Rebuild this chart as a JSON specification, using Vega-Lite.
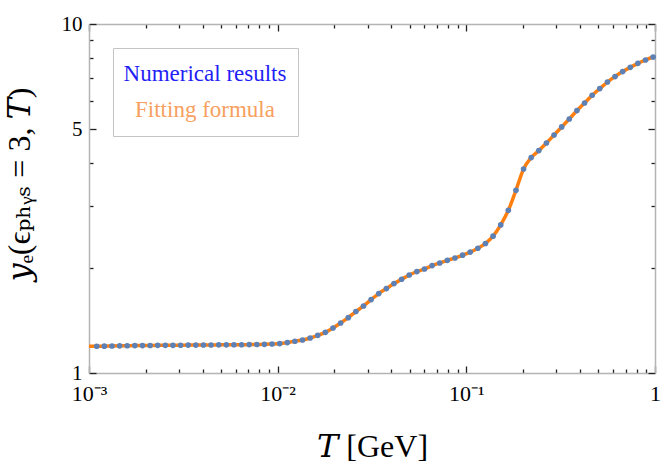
{
  "$schema": "https://vega.github.io/schema/vega-lite/v6.json",
  "width": 566,
  "height": 349,
  "autosize": "none",
  "padding": {"left": 89, "top": 24, "right": 9, "bottom": 97},
  "background": "white",
  "config": {"view": {"stroke": null}, "font": "Liberation Serif"},
  "datasets": {
    "numerical": [
      {"T": 0.001099, "y": 1.193}, {"T": 0.001206, "y": 1.194}, {"T": 0.001324, "y": 1.195}, {"T": 0.001453, "y": 1.196},
      {"T": 0.001594, "y": 1.197}, {"T": 0.00175, "y": 1.198}, {"T": 0.00192, "y": 1.198}, {"T": 0.002108, "y": 1.199},
      {"T": 0.002313, "y": 1.2}, {"T": 0.002539, "y": 1.2}, {"T": 0.002786, "y": 1.2}, {"T": 0.003058, "y": 1.201},
      {"T": 0.003356, "y": 1.202}, {"T": 0.003683, "y": 1.202}, {"T": 0.004043, "y": 1.203}, {"T": 0.004436, "y": 1.203},
      {"T": 0.004869, "y": 1.204}, {"T": 0.005344, "y": 1.204}, {"T": 0.005864, "y": 1.205}, {"T": 0.006436, "y": 1.205},
      {"T": 0.007063, "y": 1.206}, {"T": 0.007752, "y": 1.207}, {"T": 0.008507, "y": 1.208}, {"T": 0.009337, "y": 1.211},
      {"T": 0.010247, "y": 1.214}, {"T": 0.011246, "y": 1.222}, {"T": 0.012342, "y": 1.233}, {"T": 0.013545, "y": 1.243},
      {"T": 0.014866, "y": 1.26}, {"T": 0.016315, "y": 1.282}, {"T": 0.017906, "y": 1.308}, {"T": 0.019652, "y": 1.346},
      {"T": 0.021567, "y": 1.391}, {"T": 0.02367, "y": 1.441}, {"T": 0.025977, "y": 1.5}, {"T": 0.02851, "y": 1.556},
      {"T": 0.031289, "y": 1.623}, {"T": 0.03434, "y": 1.689}, {"T": 0.037687, "y": 1.745}, {"T": 0.041361, "y": 1.804},
      {"T": 0.045394, "y": 1.856}, {"T": 0.049819, "y": 1.909}, {"T": 0.054676, "y": 1.952}, {"T": 0.060007, "y": 1.986},
      {"T": 0.065857, "y": 2.031}, {"T": 0.072277, "y": 2.066}, {"T": 0.079323, "y": 2.103}, {"T": 0.087056, "y": 2.135},
      {"T": 0.095544, "y": 2.176}, {"T": 0.10486, "y": 2.22}, {"T": 0.11508, "y": 2.277}, {"T": 0.1263, "y": 2.35},
      {"T": 0.13861, "y": 2.466}, {"T": 0.15213, "y": 2.656}, {"T": 0.16696, "y": 2.925}, {"T": 0.18323, "y": 3.338},
      {"T": 0.2011, "y": 3.842}, {"T": 0.2207, "y": 4.142}, {"T": 0.24222, "y": 4.337}, {"T": 0.26583, "y": 4.56},
      {"T": 0.29174, "y": 4.808}, {"T": 0.32018, "y": 5.07}, {"T": 0.3514, "y": 5.344}, {"T": 0.38566, "y": 5.649},
      {"T": 0.42325, "y": 5.937}, {"T": 0.46452, "y": 6.248}, {"T": 0.5098, "y": 6.53}, {"T": 0.5595, "y": 6.82},
      {"T": 0.61404, "y": 7.07}, {"T": 0.6739, "y": 7.305}, {"T": 0.73961, "y": 7.515}, {"T": 0.81171, "y": 7.716},
      {"T": 0.89084, "y": 7.885}, {"T": 0.9777, "y": 8.043}
    ],
    "fit": [
      {"T": 0.001, "y": 1.193},
      {"T": 0.001099, "y": 1.193}, {"T": 0.001206, "y": 1.194}, {"T": 0.001324, "y": 1.195}, {"T": 0.001453, "y": 1.196},
      {"T": 0.001594, "y": 1.197}, {"T": 0.00175, "y": 1.198}, {"T": 0.00192, "y": 1.198}, {"T": 0.002108, "y": 1.199},
      {"T": 0.002313, "y": 1.2}, {"T": 0.002539, "y": 1.2}, {"T": 0.002786, "y": 1.2}, {"T": 0.003058, "y": 1.201},
      {"T": 0.003356, "y": 1.202}, {"T": 0.003683, "y": 1.202}, {"T": 0.004043, "y": 1.203}, {"T": 0.004436, "y": 1.203},
      {"T": 0.004869, "y": 1.204}, {"T": 0.005344, "y": 1.204}, {"T": 0.005864, "y": 1.205}, {"T": 0.006436, "y": 1.205},
      {"T": 0.007063, "y": 1.206}, {"T": 0.007752, "y": 1.207}, {"T": 0.008507, "y": 1.208}, {"T": 0.009337, "y": 1.211},
      {"T": 0.010247, "y": 1.214}, {"T": 0.011246, "y": 1.222}, {"T": 0.012342, "y": 1.233}, {"T": 0.013545, "y": 1.243},
      {"T": 0.014866, "y": 1.26}, {"T": 0.016315, "y": 1.282}, {"T": 0.017906, "y": 1.308}, {"T": 0.019652, "y": 1.346},
      {"T": 0.021567, "y": 1.391}, {"T": 0.02367, "y": 1.441}, {"T": 0.025977, "y": 1.5}, {"T": 0.02851, "y": 1.556},
      {"T": 0.031289, "y": 1.623}, {"T": 0.03434, "y": 1.689}, {"T": 0.037687, "y": 1.745}, {"T": 0.041361, "y": 1.804},
      {"T": 0.045394, "y": 1.856}, {"T": 0.049819, "y": 1.909}, {"T": 0.054676, "y": 1.952}, {"T": 0.060007, "y": 1.986},
      {"T": 0.065857, "y": 2.031}, {"T": 0.072277, "y": 2.066}, {"T": 0.079323, "y": 2.103}, {"T": 0.087056, "y": 2.135},
      {"T": 0.095544, "y": 2.176}, {"T": 0.10486, "y": 2.22}, {"T": 0.11508, "y": 2.277}, {"T": 0.1263, "y": 2.35},
      {"T": 0.13861, "y": 2.466}, {"T": 0.15213, "y": 2.656}, {"T": 0.16696, "y": 2.925}, {"T": 0.18323, "y": 3.338},
      {"T": 0.2011, "y": 3.842}, {"T": 0.2207, "y": 4.142}, {"T": 0.24222, "y": 4.337}, {"T": 0.26583, "y": 4.56},
      {"T": 0.29174, "y": 4.808}, {"T": 0.32018, "y": 5.07}, {"T": 0.3514, "y": 5.344}, {"T": 0.38566, "y": 5.649},
      {"T": 0.42325, "y": 5.937}, {"T": 0.46452, "y": 6.248}, {"T": 0.5098, "y": 6.53}, {"T": 0.5595, "y": 6.82},
      {"T": 0.61404, "y": 7.07}, {"T": 0.6739, "y": 7.305}, {"T": 0.73961, "y": 7.515}, {"T": 0.81171, "y": 7.716},
      {"T": 0.89084, "y": 7.885}, {"T": 0.9777, "y": 8.043},
      {"T": 1, "y": 8.066}
    ]
  },
  "layer": [
    {
      "data": {"name": "fit"},
      "mark": {"type": "line", "strokeWidth": 3.5, "interpolate": "monotone", "clip": true},
      "encoding": {
        "x": {
          "field": "T", "type": "quantitative",
          "scale": {"type": "log", "domain": [0.001, 1], "nice": false},
          "axis": {
            "orient": "bottom",
            "values": [0.001, 0.002, 0.003, 0.004, 0.005, 0.006, 0.007, 0.008, 0.009, 0.01, 0.02, 0.03, 0.04, 0.05, 0.06, 0.07, 0.08, 0.09, 0.1, 0.2, 0.3, 0.4, 0.5, 0.6, 0.7, 0.8, 0.9, 1],
            "labelExpr": "datum.value == 0.001 ? '10⁻³' : datum.value == 0.01 ? '10⁻²' : datum.value == 0.1 ? '10⁻¹' : datum.value == 1 ? '1' : ''",
            "ticks": true,
            "tickSize": {"condition": {"test": "datum.value == 0.001 || datum.value == 0.01 || datum.value == 0.1 || datum.value == 1", "value": -7}, "value": -4},
            "tickColor": "#222", "tickWidth": 1.3,
            "domainColor": "#b4b4b4", "domainWidth": 1.5,
            "grid": false,
            "labelFont": "Liberation Serif", "labelFontSize": 22, "labelColor": "black",
            "labelPadding": 17, "labelFlush": false, "labelOverlap": false,
            "title": "𝑇 [GeV]", "titleFont": "'Liberation Serif', 'DejaVu Serif', serif", "titleFontSize": 32,
            "titleFontWeight": "normal", "titleColor": "black", "titlePadding": 24
          }
        },
        "y": {
          "field": "y", "type": "quantitative",
          "scale": {"type": "log", "domain": [1, 10], "nice": false},
          "axis": {
            "orient": "left",
            "values": [1, 2, 3, 4, 5, 6, 7, 8, 9, 10],
            "labelExpr": "datum.value == 1 ? '1' : datum.value == 5 ? '5' : datum.value == 10 ? '10' : ''",
            "ticks": true,
            "tickSize": {"condition": {"test": "datum.value == 1 || datum.value == 5 || datum.value == 10", "value": -7}, "value": -4},
            "tickColor": "#222", "tickWidth": 1.3,
            "domainColor": "#b4b4b4", "domainWidth": 1.5,
            "grid": false,
            "labelFont": "Liberation Serif", "labelFontSize": 21, "labelColor": "black",
            "labelPadding": 14, "labelFlush": false, "labelOverlap": false,
            "title": "𝑦ₑ(ϵₚₕᵧₛ = 3, 𝑇)", "titleFont": "'Liberation Serif', 'DejaVu Serif', serif", "titleFontSize": 32,
            "titleFontWeight": "normal", "titleColor": "black", "titlePadding": 25, "titleY": 160
          }
        },
        "color": {
          "datum": "Fitting formula",
          "scale": {"domain": ["Numerical results", "Fitting formula"], "range": ["#5e81b5", "#ff7f0e"]},
          "legend": {
            "title": null, "orient": "top-left", "offset": 24,
            "symbolOpacity": 0, "symbolSize": 900, "symbolStrokeWidth": 0,
            "labelFont": "Liberation Serif", "labelFontSize": 23,
            "labelAlign": "center", "labelOffset": 51, "labelLimit": 0,
            "padding": 11, "rowPadding": 6,
            "strokeColor": "#c4c4c4", "fillColor": "white",
            "encode": {"labels": {"update": {"fill": {"signal": "datum.label == 'Numerical results' ? '#1f1ff5' : '#f7a060'"}}}}
          }
        }
      }
    },
    {
      "data": {"name": "numerical"},
      "mark": {"type": "point", "filled": true, "size": 32, "opacity": 1},
      "encoding": {
        "x": {
          "field": "T", "type": "quantitative",
          "scale": {"type": "log", "domain": [0.001, 1], "nice": false},
          "axis": {
            "orient": "top",
            "values": [0.001, 0.002, 0.003, 0.004, 0.005, 0.006, 0.007, 0.008, 0.009, 0.01, 0.02, 0.03, 0.04, 0.05, 0.06, 0.07, 0.08, 0.09, 0.1, 0.2, 0.3, 0.4, 0.5, 0.6, 0.7, 0.8, 0.9, 1],
            "labels": false,
            "ticks": true,
            "tickSize": {"condition": {"test": "datum.value == 0.001 || datum.value == 0.01 || datum.value == 0.1 || datum.value == 1", "value": -7}, "value": -4},
            "tickColor": "#222", "tickWidth": 1.3,
            "domainColor": "#b4b4b4", "domainWidth": 1.5,
            "grid": false, "title": null
          }
        },
        "y": {
          "field": "y", "type": "quantitative",
          "scale": {"type": "log", "domain": [1, 10], "nice": false},
          "axis": {
            "orient": "right",
            "values": [1, 2, 3, 4, 5, 6, 7, 8, 9, 10],
            "labels": false,
            "ticks": true,
            "tickSize": {"condition": {"test": "datum.value == 1 || datum.value == 5 || datum.value == 10", "value": -7}, "value": -4},
            "tickColor": "#222", "tickWidth": 1.3,
            "domainColor": "#b4b4b4", "domainWidth": 1.5,
            "grid": false, "title": null
          }
        },
        "color": {"datum": "Numerical results"}
      }
    }
  ],
  "resolve": {"axis": {"x": "independent", "y": "independent"}}
}
